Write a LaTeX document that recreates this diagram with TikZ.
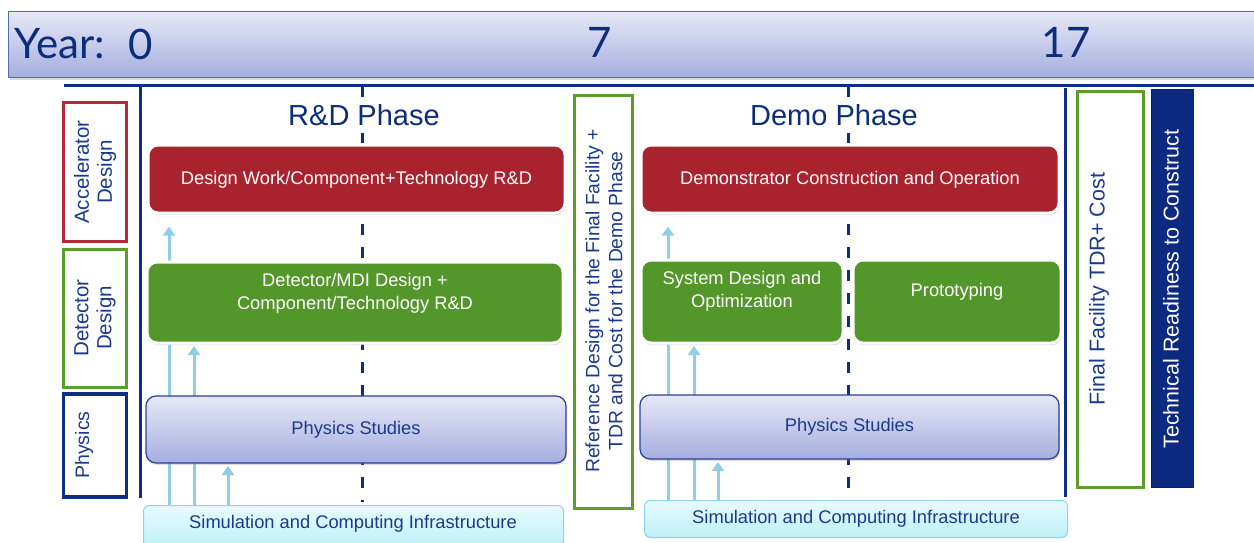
\documentclass[tikz,border=0pt]{standalone}
\usepackage{fontspec}
\setmainfont{Liberation Sans}
\newfontfamily\yearfont{Lato}
\usetikzlibrary{shadows,arrows.meta}
\definecolor{navy}{HTML}{1B3A8C}
\definecolor{ytext}{HTML}{0C2C7C}
\definecolor{lineblue}{HTML}{0E2E85}
\definecolor{redfill}{HTML}{A9232F}
\definecolor{greenfill}{HTML}{53962A}
\definecolor{greenline}{HTML}{5C9E2E}
\definecolor{redline}{HTML}{B22A35}
\definecolor{arrowblue}{HTML}{8ECFE5}
\definecolor{physborder}{HTML}{2B3F9A}
\definecolor{phystop}{HTML}{E6E8F6}
\definecolor{physbot}{HTML}{A5AEDF}
\definecolor{simtop}{HTML}{E8FCFF}
\definecolor{simbot}{HTML}{BDEFF8}
\definecolor{simborder}{HTML}{8FD3E8}
\definecolor{trfill}{HTML}{0B2A80}
\tikzset{
  fs/.style={font=\fontsize{#1}{23}\selectfont},
  solidbox/.style={rounded corners=10pt, draw=white, line width=3pt,
    drop shadow={shadow xshift=1pt, shadow yshift=-2pt, opacity=0.35},
    text=white, fs=18.3, align=center, inner sep=0pt},
  redbox/.style={solidbox, fill=redfill},
  greenbox/.style={solidbox, fill=greenfill},
  physbox/.style={rounded corners=10pt, draw=physborder, line width=1.2pt,
    top color=phystop, bottom color=physbot, text=navy, fs=18.3,
    drop shadow={shadow xshift=1pt, shadow yshift=-2pt, opacity=0.25}},
  simbox/.style={rounded corners=6pt, draw=simborder, line width=1pt,
    top color=simtop, bottom color=simbot, text=navy, fs=18.3},
  simtext/.style={text=navy, fs=18.3},
  sidebox/.style={draw=#1, line width=3pt, fill=white, inner sep=0pt},
  sidetext/.style={rotate=90, text=navy, align=center},
  whitetext/.style={text=white, fs=18.3, align=center},
  upar/.style={draw=arrowblue, line width=3pt, -{Triangle[length=9pt,width=12pt]}},
  tline/.style={draw=lineblue, line width=3pt},
  dline/.style={draw=lineblue, line width=3pt, dash pattern=on 11pt off 12pt},
  yeartext/.style={text=ytext, font=\yearfont\fontsize{42}{48}\selectfont},
  phasetitle/.style={text=ytext, fs=29, fill=white, inner xsep=30pt, inner ysep=7pt},
}
\begin{document}
\begin{tikzpicture}[x=1pt,y=-1pt]
\useasboundingbox (0,0) rectangle (1254,542);
% banner
\node[draw=lineblue!70, line width=1pt, top color=phystop, bottom color=physbot,
  minimum width=1254pt, minimum height=66pt, inner sep=0pt, anchor=north west,
  drop shadow={shadow xshift=1pt, shadow yshift=-2pt, opacity=0.3}] (banner) at (8,11) {};
\node[yeartext, anchor=west] (yl) at (11,44) {Year:};
\node[yeartext] (y0) at (141,44) {0};
\node[yeartext] (y7) at (600,42) {7};
\node[yeartext] (y17) at (1066,42) {17};
% timeline
\coordinate (tl0) at (64,85);
\coordinate (tl1) at (1256,85);
\draw[tline] (tl0) -- (tl1);
\coordinate (v1t) at (140,85);
\coordinate (v1b) at (140,498);
\draw[tline] (v1t) -- (v1b);
\coordinate (v2t) at (1065,88);
\coordinate (v2b) at (1065,497);
\draw[tline] (v2t) -- (v2b);
\coordinate (d1t) at (362,86);
\coordinate (d1b) at (362,502);
\draw[dline] (d1t) -- (d1b);
\coordinate (d2t) at (848,86);
\coordinate (d2b) at (848,500);
\draw[dline] (d2t) -- (d2b);
% side labels
\node[sidebox=redline, minimum width=63pt, minimum height=139pt] (acc) at (95,172) {};
\node[sidetext, fs=20.5] (acct) at (acc.center) {Accelerator\\Design};
\node[sidebox=greenline, minimum width=63pt, minimum height=138pt] (det) at (95,318) {};
\node[sidetext, fs=20.5] (dett) at (det.center) {Detector\\Design};
\node[sidebox=lineblue, minimum width=63pt, minimum height=103pt, line width=3.5pt] (phy) at (95,445.5) {};
\node[sidetext, fs=19.5] (phyt) at (84,445) {Physics};
% phase titles
\node[phasetitle] (t1) at (364,115) {R\&D Phase};
\node[phasetitle] (t2) at (834,115) {Demo Phase};
% bottom boxes
\node[simbox, minimum width=420pt, minimum height=42pt, anchor=north west] (sim1) at (143,505) {};
\node[simtext] (sim1t) at (353,524) {Simulation and Computing Infrastructure};
\node[simbox, minimum width=423pt, minimum height=37pt, anchor=north west] (sim2) at (644,500) {Simulation and Computing Infrastructure};
% x positions of arrows
\coordinate (a1) at (169,0);
\coordinate (a2) at (194,0);
\coordinate (a3) at (228,0);
\coordinate (b1) at (668,0);
\coordinate (b2) at (694,0);
\coordinate (b3) at (718,0);
% upper boxes
\node[redbox, minimum width=417pt, minimum height=68pt] (red1) at (356.5,179) {};
\node[whitetext] (red1t) at (356.5,180) {Design Work/Component+Technology R\&D};
\node[redbox, minimum width=418pt, minimum height=68pt] (red2) at (850,179) {};
\node[whitetext] (red2t) at (850,180) {Demonstrator Construction and Operation};
% arrows (drawn before the lower boxes so that they pass behind)
\draw[upar, shorten >=12pt] (sim1.north -| a1) -- (red1.south -| a1);
\draw[upar, shorten >=12pt] (sim2.north -| b1) -- (red2.south -| b1);
\coordinate (g1s) at (355,343);
\coordinate (g2s) at (742,343);
\coordinate (p1s) at (356,463);
\coordinate (p2s) at (850,459);
\draw[upar, shorten >=3pt] (sim1.north -| a2) -- (g1s -| a2);
\draw[upar, shorten >=3pt] (sim2.north -| b2) -- (g2s -| b2);
\draw[upar, shorten >=3pt] (sim1.north -| a3) -- (p1s -| a3);
\draw[upar, shorten >=3pt] (sim2.north -| b3) -- (p2s -| b3);
% green boxes
\node[greenbox, minimum width=416pt, minimum height=81pt] (green1) at (355,302.5) {};
\node[whitetext] (green1t) at (355,293) {Detector/MDI Design +\\Component/Technology R\&D};
\node[greenbox, minimum width=202pt, minimum height=83pt] (green2) at (742,301.5) {};
\node[whitetext] (green2t) at (742,291.5) {System Design and\\Optimization};
\node[greenbox, minimum width=208pt, minimum height=83pt] (green3) at (957,301.5) {};
\node[whitetext] (green3t) at (957,292) {Prototyping};
% physics boxes
\node[physbox, minimum width=420pt, minimum height=67pt] (ps1) at (356,429.5) {Physics Studies};
\node[physbox, minimum width=419pt, minimum height=64pt] (ps2) at (849.5,427) {Physics Studies};
% milestone boxes
\node[sidebox=greenline, minimum width=58pt, minimum height=413pt] (ref) at (603,301.5) {};
\node[sidetext, fs=19.3] (reft) at (604,301) {Reference Design for the Final Facility +\\TDR and Cost for the Demo Phase};
\node[sidebox=greenline, minimum width=66pt, minimum height=396pt] (ffc) at (1110.5,289) {};
\node[sidetext, fs=21.5] (ffct) at (1099,289) {Final Facility TDR+ Cost};
\node[draw=trfill!80!black, line width=1pt, fill=trfill, minimum width=42pt, minimum height=398pt, inner sep=0pt] (trc) at (1172,288) {};
\node[sidetext, fs=21.5, text=white] (trct) at (1171,289) {Technical Readiness to Construct};
\end{tikzpicture}
\end{document}
